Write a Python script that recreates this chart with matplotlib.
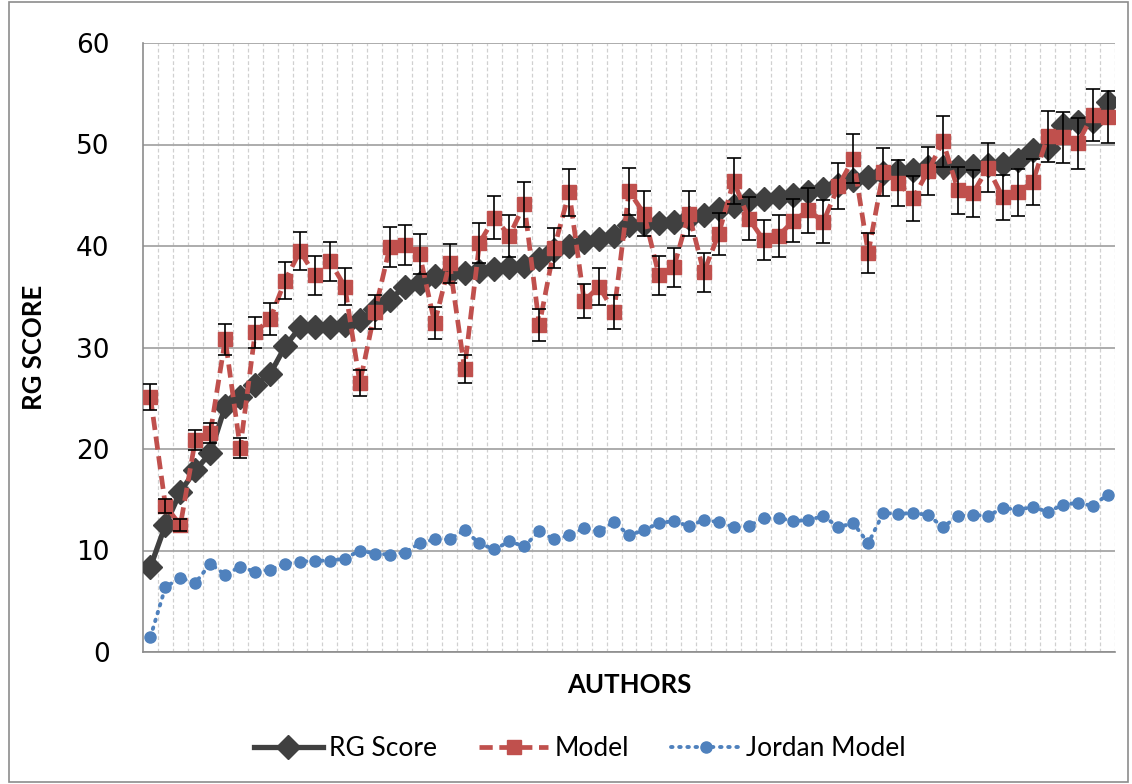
import numpy as np
import matplotlib
matplotlib.use("Agg")
import matplotlib.pyplot as plt
from matplotlib.patches import Rectangle

# --- datos (65 autores, ordenados por RG Score) ---
rg_score = [8.4, 12.5, 15.8, 17.9, 19.6, 24.2, 25.1, 26.3, 27.4, 30.1,
            32.0, 32.0, 32.0, 32.2, 32.7, 33.8, 34.7, 36.0, 36.4, 37.0,
            37.3, 37.3, 37.5, 37.7, 37.9, 38.0, 38.7, 39.6, 40.0, 40.4,
            40.7, 41.0, 42.1, 42.2, 42.3, 42.4, 42.8, 43.1, 43.6, 43.9,
            44.5, 44.6, 44.8, 45.0, 45.3, 45.6, 46.0, 46.5, 46.8, 47.2,
            47.4, 47.5, 47.8, 47.8, 47.8, 47.9, 48.0, 48.1, 48.5, 49.5,
            49.7, 51.9, 52.2, 52.3, 54.2]

model = [25.1, 14.4, 12.5, 20.9, 21.6, 30.8, 20.1, 31.5, 32.8, 36.6,
         39.5, 37.1, 38.5, 36.0, 26.5, 33.5, 39.9, 40.1, 39.2, 32.4,
         38.3, 27.9, 40.3, 42.8, 41.0, 44.1, 32.2, 39.8, 45.3, 34.6,
         36.0, 33.5, 45.4, 43.2, 37.1, 37.9, 43.2, 37.4, 41.2, 46.4,
         42.7, 40.6, 41.0, 42.5, 43.5, 42.4, 45.9, 48.6, 39.3, 47.3,
         46.2, 44.7, 47.4, 50.3, 45.5, 45.2, 47.7, 44.8, 45.3, 46.3,
         50.8, 50.7, 50.1, 52.9, 52.7]

model_err = [1.3, 0.7, 0.6, 1.0, 1.0, 1.5, 1.0, 1.5, 1.6, 1.8,
             1.9, 1.9, 1.9, 1.8, 1.3, 1.7, 2.0, 2.0, 2.0, 1.6,
             1.9, 1.4, 2.0, 2.1, 2.1, 2.2, 1.6, 2.0, 2.3, 1.7,
             1.8, 1.7, 2.3, 2.2, 1.9, 1.9, 2.2, 1.9, 2.1, 2.3,
             2.1, 2.0, 2.1, 2.1, 2.2, 2.1, 2.3, 2.4, 2.0, 2.4,
             2.3, 2.2, 2.4, 2.5, 2.3, 2.3, 2.4, 2.2, 2.3, 2.3,
             2.5, 2.5, 2.5, 2.6, 2.6]

jordan = [1.5, 6.4, 7.3, 6.8, 8.7, 7.6, 8.4, 7.9, 8.1, 8.7,
          8.9, 9.0, 9.0, 9.2, 10.0, 9.7, 9.6, 9.8, 10.7, 11.1,
          11.1, 12.0, 10.7, 10.1, 10.9, 10.4, 11.9, 11.1, 11.5, 12.2,
          11.9, 12.8, 11.5, 12.0, 12.7, 12.9, 12.4, 13.0, 12.8, 12.3,
          12.4, 13.2, 13.2, 12.9, 13.0, 13.4, 12.3, 12.7, 10.7, 13.7,
          13.6, 13.7, 13.5, 12.3, 13.4, 13.5, 13.4, 14.2, 14.0, 14.3,
          13.8, 14.5, 14.7, 14.4, 15.5]

y_ticks = [0, 10, 20, 30, 40, 50, 60]

W, H = 1132, 784
x = np.arange(len(rg_score))

fig = plt.figure(figsize=(W / 100, H / 100), dpi=100)
ax = fig.add_axes([143 / W, (H - 652) / H, 972 / W, 609 / H])

# borde exterior del area del grafico
fig.patches.append(Rectangle((9 / W, 2 / H), 1119 / W, 780 / H,
                             transform=fig.transFigure, fill=False,
                             edgecolor="#8c8c8c", lw=1.2))

ax.plot(x, rg_score, color="#404040", lw=3.8, marker="D", ms=12,
        label="RG Score", zorder=3)
ax.plot(x, model, color="#C0504D", lw=3.4, ls=(0, (2.8, 1.4)), marker="s",
        ms=10.5, label="Model", zorder=4)
ax.errorbar(x, model, yerr=model_err, fmt="none", ecolor="black",
            elinewidth=1.2, capsize=5, capthick=1.2, zorder=5)
ax.plot(x, jordan, color="#4F81BD", lw=2.8, ls=(0, (0.4, 1.7)),
        dash_capstyle="round", marker="o", ms=8, label="Jordan Model",
        zorder=6)

ax.set_xlim(-0.5, len(x) - 0.5)
ax.set_ylim(0, 60)
ax.set_yticks(y_ticks)
ax.set_xticks([])
ax.set_xticks(np.arange(0.5, len(x)), minor=True)
ax.tick_params(axis="x", which="both", length=0)
ax.tick_params(axis="y", length=0, pad=24, labelsize=19)
for lab in ax.get_yticklabels():
    lab.set_fontfamily("DejaVu Sans")

ax.grid(axis="y", which="major", color="#A6A6A6", lw=1.3, zorder=0)
ax.grid(axis="x", which="minor", color="#D0D0D0", lw=0.9, ls=(0, (3, 2)),
        zorder=0)
ax.set_axisbelow(True)
for side in ["top", "right"]:
    ax.spines[side].set_visible(False)
for side in ["left", "bottom"]:
    ax.spines[side].set_color("#8c8c8c")
    ax.spines[side].set_linewidth(1.2)

ax.set_ylabel("RG SCORE", fontsize=18.5, fontweight="bold", family="Lato",
              labelpad=22)
ax.set_xlabel("AUTHORS", fontsize=18.5, fontweight="bold", family="Lato",
              labelpad=12)

fig.legend(loc="center", bbox_to_anchor=(580 / W, 1 - 749 / H), ncol=3,
           frameon=False, prop={"family": "Lato", "size": 19},
           handlelength=2.6, columnspacing=1.6, handletextpad=0.25)

fig.savefig("out.png", dpi=100)
